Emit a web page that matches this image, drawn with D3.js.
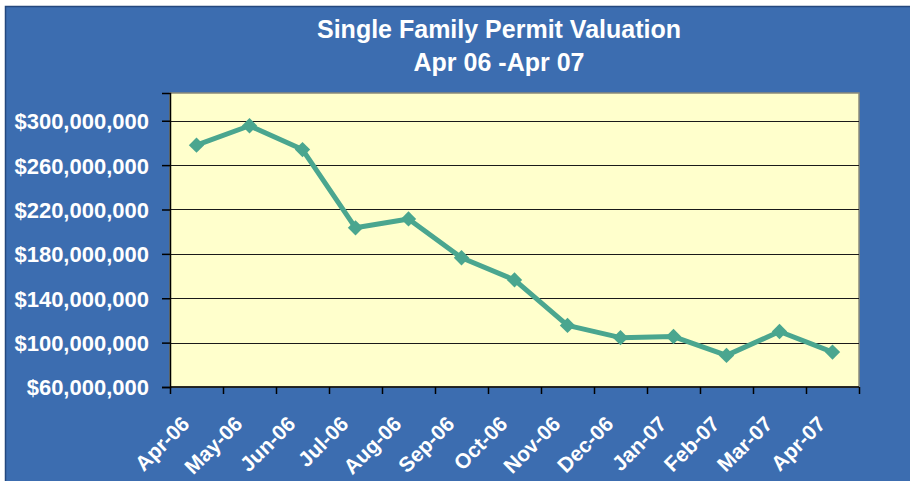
<!DOCTYPE html>
<html>
<head>
<meta charset="utf-8">
<script src="https://cdn.jsdelivr.net/npm/d3@7"></script>
<style>
  html, body { margin: 0; padding: 0; background: #ffffff; }
  svg text { font-family: "Liberation Sans", Arial, sans-serif; font-weight: bold; fill: #ffffff; }
</style>
</head>
<body>
<svg id="chart" width="910" height="481"></svg>
<script>

//  values
var months = ['Apr-06', 'May-06', 'Jun-06', 'Jul-06', 'Aug-06', 'Sep-06', 'Oct-06',
              'Nov-06', 'Dec-06', 'Jan-07', 'Feb-07', 'Mar-07', 'Apr-07'];

var valuation = [278000000, 295500000, 274000000, 203500000, 211500000, 176500000, 156500000,
                 115500000, 104500000, 105500000, 88500000, 110000000, 91500000];

var y_ticks = [60000000, 100000000, 140000000, 180000000, 220000000, 260000000, 300000000];

var title_lines = ['Single Family Permit Valuation', 'Apr 06 -Apr 07'];

var colors = {
    'panel' : '#3c6db0',
    'plot' : '#ffffcc',
    'line' : '#4aa68f',
    'grid' : '#1a1a1a'
};

var plot = { left : 170, top : 93, right : 859, bottom : 387 };

var svg = d3.select('#chart');

// blue panel behind everything
svg.append('rect')
    .attr('x', 5.5)
    .attr('y', 6.5)
    .attr('width', 910)
    .attr('height', 480)
    .attr('fill', colors.panel)
    .attr('stroke', '#24487e')
    .attr('stroke-width', 1.5);

svg.selectAll('.title')
    .data(title_lines)
    .enter()
    .append('text')
    .attr('class', 'title')
    .attr('x', 499)
    .attr('y', function(d, i) { return 38 + i * 33; })
    .attr('text-anchor', 'middle')
    .style('font-size', '25px')
    .text(function(d) { return d; });

var x = d3.scaleBand()
    .domain(months)
    .range([plot.left, plot.right]);

var y = d3.scaleLinear()
    .domain([60000000, 325000000])
    .range([plot.bottom, plot.top]);

svg.append('rect')
    .attr('x', plot.left)
    .attr('y', plot.top)
    .attr('width', plot.right - plot.left)
    .attr('height', plot.bottom - plot.top)
    .attr('fill', colors.plot)
    .attr('stroke', '#8a8a7a')
    .attr('stroke-width', 1.5);

// horizontal grid
svg.append('g')
    .selectAll('line')
    .data(y_ticks.slice(1))
    .enter()
    .append('line')
    .attr('x1', plot.left)
    .attr('x2', plot.right)
    .attr('y1', function(d) { return Math.round(y(d)) + 0.5; })
    .attr('y2', function(d) { return Math.round(y(d)) + 0.5; })
    .attr('stroke', colors.grid)
    .attr('stroke-width', 1);

var money = d3.format('$,');

var yAxis = svg.append('g')
    .attr('transform', 'translate(' + plot.left + ',0)')
    .call(d3.axisLeft(y).tickValues(y_ticks).tickFormat(money).tickSize(8).tickPadding(13));

yAxis.select('.domain').attr('stroke', '#000').attr('stroke-width', 1.5);
yAxis.selectAll('.tick line').attr('stroke', '#000').attr('stroke-width', 1.5);
yAxis.selectAll('text')
    .attr('fill', '#fff')
    .attr('dy', '0.36em')
    .style('font-size', '22px')
    .style('font-family', '"Liberation Sans", Arial, sans-serif')
    .style('font-weight', 'bold');

// x axis: ticks between categories, labels rotated
var xAxis = svg.append('g')
    .attr('transform', 'translate(0,' + plot.bottom + ')');

xAxis.append('line')
    .attr('x1', plot.left)
    .attr('x2', plot.right)
    .attr('stroke', '#000')
    .attr('stroke-width', 1.5);

xAxis.selectAll('.tick')
    .data(months.concat(['end']))
    .enter()
    .append('line')
    .attr('class', 'tick')
    .attr('x1', function(d, i) { return Math.round(plot.left + i * x.step()) + 0.5; })
    .attr('x2', function(d, i) { return Math.round(plot.left + i * x.step()) + 0.5; })
    .attr('y1', 0)
    .attr('y2', 7)
    .attr('stroke', '#000')
    .attr('stroke-width', 1.5);

xAxis.selectAll('.label')
    .data(months)
    .enter()
    .append('text')
    .attr('class', 'label')
    .attr('text-anchor', 'end')
    .attr('transform', function(d) {
        return 'translate(' + (x(d) + x.bandwidth() / 2 - 11) + ',33) rotate(-45)';
    })
    .attr('dy', '0.35em')
    .style('font-size', '21px')
    .text(function(d) { return d; });

// the series
var line = d3.line()
    .x(function(d, i) { return x(months[i]) + x.bandwidth() / 2; })
    .y(function(d) { return y(d); });

svg.append('path')
    .datum(valuation)
    .attr('d', line)
    .attr('fill', 'none')
    .attr('stroke', colors.line)
    .attr('stroke-width', 5)
    .attr('stroke-linejoin', 'round');

svg.selectAll('.marker')
    .data(valuation)
    .enter()
    .append('path')
    .attr('class', 'marker')
    .attr('d', d3.symbol().type(d3.symbolDiamond2).size(150))
    .attr('transform', function(d, i) {
        return 'translate(' + (x(months[i]) + x.bandwidth() / 2) + ',' + y(d) + ')';
    })
    .attr('fill', colors.line);

</script>
</body>
</html>
